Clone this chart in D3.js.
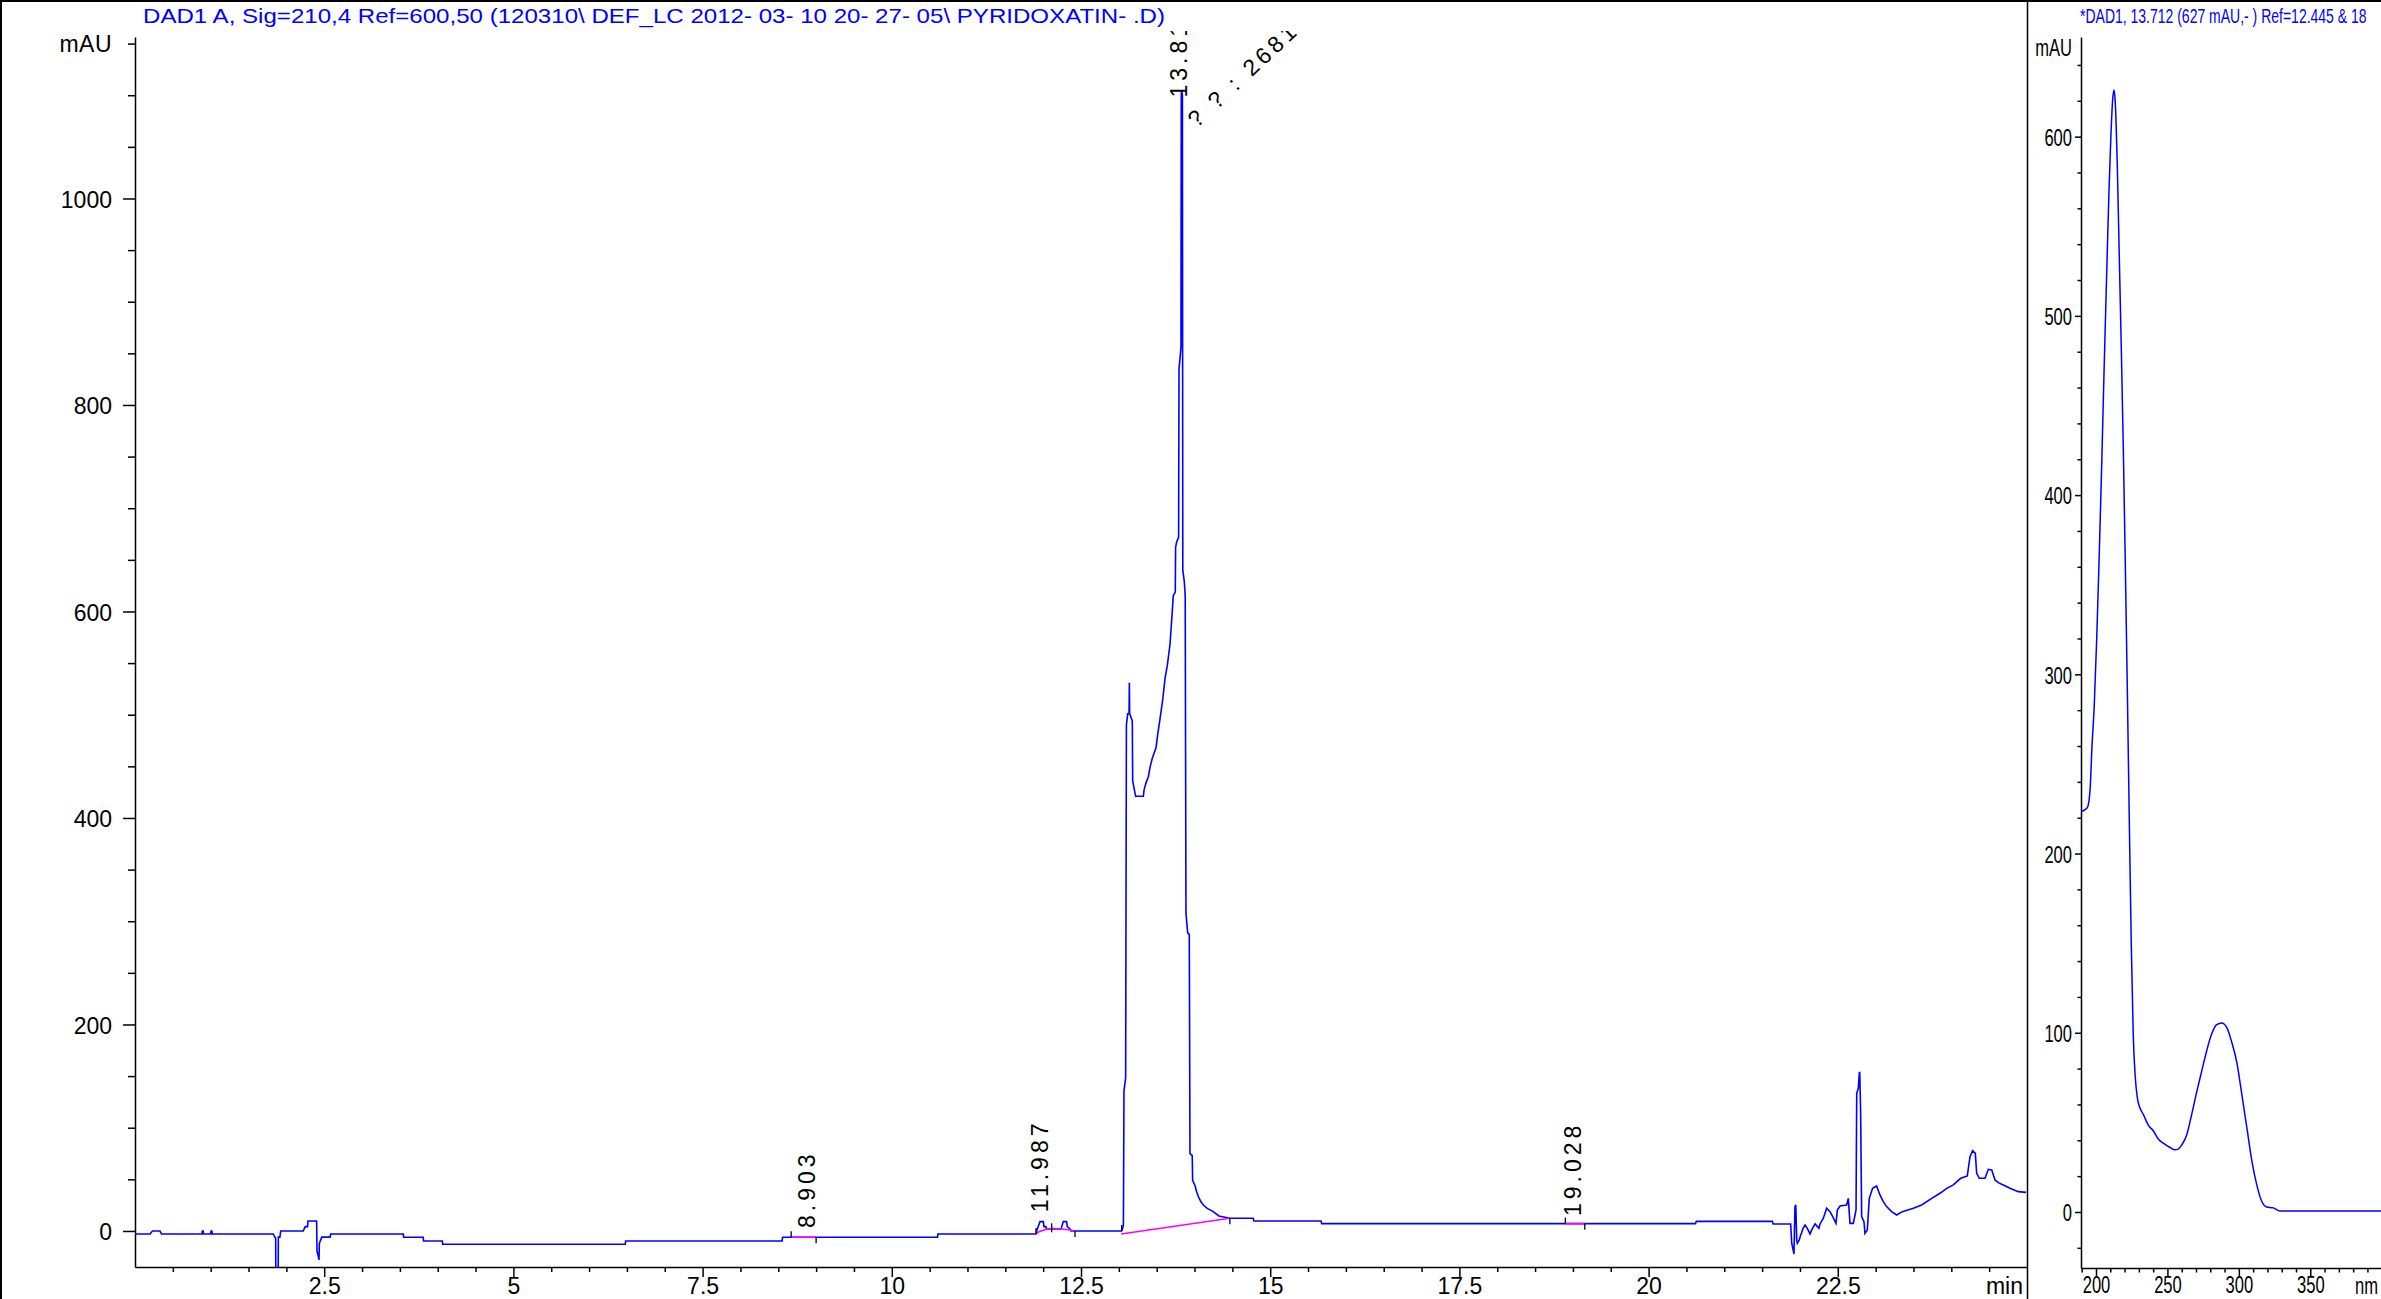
<!DOCTYPE html>
<html><head><meta charset="utf-8">
<script src="https://cdn.jsdelivr.net/npm/d3@7"></script>
<style>
html,body{margin:0;padding:0;background:#fff;overflow:hidden}
svg{display:block}
text{font-family:"Liberation Sans",Arial,sans-serif}
</style>
</head><body>
<svg id="c" width="2381" height="1299"></svg>
<script>
// ---------------- DATA ----------------
const mainTitle = "DAD1 A, Sig=210,4 Ref=600,50 (120310\\ DEF_LC 2012- 03- 10 20- 27- 05\\ PYRIDOXATIN- .D)";
const specTitle = "*DAD1, 13.712 (627 mAU,- ) Ref=12.445 & 18";

// chromatogram: [time (min), signal (mAU)]
const chromatogram = [
[0,-2.9],[0.2,-2.9],[0.23,0],[0.33,0],[0.35,-2.9],[0.885,-2.9],[0.89,0],[0.9,0],[0.905,-2.9],[1.0,-2.9],[1.005,0],[1.015,0],[1.02,-2.9],
[1.828,-2.9],[1.841,-5],[1.859,-7],[1.862,-80],[1.89,-80],[1.894,-6],[1.915,-6],[1.925,0],
[2.224,0],[2.232,1.5],[2.25,4.2],[2.28,4.2],[2.286,9.7],[2.4,9.7],[2.405,-20],[2.414,-22],[2.431,-28],[2.436,-12],[2.467,-6],[2.577,-6],[2.586,-2.9],
[3.545,-2.9],[3.55,-6.1],[3.808,-6.1],[3.813,-9.7],[4.061,-9.7],[4.066,-12.9],[6.478,-12.9],[6.483,-9.7],[8.551,-9.7],[8.556,-6.1],[10.604,-6.1],[10.609,-2.9],
[11.905,-2.9],[11.923,1.9],[11.958,9],[12.002,9],[12.011,4.2],[12.037,4.2],[12.046,1.9],[12.236,1.9],[12.245,4.2],[12.266,9],[12.31,9],[12.319,4.2],[12.355,1.9],[12.368,0],
[13.037,0],[13.06,5],[13.068,136],[13.09,148],[13.1,490],[13.117,501],[13.135,501],[13.139,531],[13.143,501],[13.178,494],[13.183,436],[13.222,421],[13.324,421],[13.333,427],[13.359,434],[13.39,440],[13.412,449],[13.443,458],[13.491,468],[13.514,481],[13.544,496],[13.579,514],[13.61,535],[13.641,548],[13.676,568],[13.706,600],[13.719,615],[13.746,619],[13.75,662],[13.763,667],[13.79,672],[13.795,835],[13.808,845],[13.821,856],[13.825,1100],[13.83,1105],[13.84,1100],[13.845,640],[13.865,629],[13.877,615],[13.887,308],[13.909,289],[13.931,287],[13.94,75],[13.97,73],[13.975,49],[14.006,44],[14.028,38],[14.058,32],[14.093,27.4],[14.128,24.4],[14.168,21.8],[14.247,18.8],[14.322,14.5],[14.467,12.3],[14.775,12.3],[14.785,9.7],
[15.672,9.7],[15.68,7.1],[20.62,7.1],[20.63,9.3],[21.636,9.3],[21.645,6.8],[21.877,6.8],
[21.891,-11.9],[21.921,-22.3],[21.934,23.6],[21.945,25.2],[21.957,-8.7],[21.965,-11.9],[21.991,-8.7],[22.009,-3.9],[22.02,-2.3],[22.036,1.9],[22.067,5.8],[22.097,2.6],[22.133,-2.9],[22.155,1.0],[22.2,6.8],[22.25,2.6],[22.265,6.8],[22.309,12.3],[22.353,22],[22.397,18.7],[22.433,13.9],[22.476,7.4],[22.494,20.3],[22.529,24.2],[22.617,25.2],[22.639,31.6],[22.661,7.4],[22.705,7.4],[22.741,20.3],[22.75,133.3],[22.771,138.2],[22.785,153.4],[22.79,153.4],[22.802,114],[22.815,13.9],[22.846,9],[22.859,-2.3],[22.89,1.0],[22.916,31.6],[22.96,41.3],[23.013,43.6],[23.057,34.9],[23.101,28.4],[23.145,23.6],[23.211,18.7],[23.278,15.5],[23.353,18.7],[23.498,22],[23.608,25.2],[23.741,31.6],[23.85,36.5],[23.939,41.3],[24.026,44.6],[24.124,51],[24.211,53.3],[24.247,72],[24.282,77.8],[24.317,75.2],[24.335,55.9],[24.37,51],[24.445,51],[24.489,59.7],[24.534,59.1],[24.577,49.4],[24.621,46.8],[24.687,44.6],[24.775,41.3],[24.885,38.1],[24.987,37.4]
];

// integration baselines (pink): each a list of [time, mAU]
const baselines = [
  [[8.67,-6.1],[9.0,-6.1]],
  [[11.905,-2.9],[11.95,-0.5],[12.046,1.6],[12.112,2.6],[12.245,1.9],[12.355,1.0],[12.421,0]],
  [[13.03,-2.9],[14.467,12.3]],
  [[18.9,7.1],[19.157,7.1]]
];
const peakStart = [[8.67,-6.1],[11.905,-2.9],[13.037,0],[18.9,7.1]];
const peakEnd   = [[9.0,-6.1],[12.421,0],[14.467,12.3],[19.157,7.1]];
const peakSplit = [[12.112,2.6]];

// peak labels
const peakRT     = [8.903, 11.987, 13.819, 19.028];
const peakText   = ["8.903", "11.987", "13.819", "19.028"];
const peakLevel  = [-5.8, 9.5, 1089, 5.8];
const peakName   = "? ? : 2681-";

// axis ticks (main)
const xMajor = [2.5, 5, 7.5, 10, 12.5, 15, 17.5, 20, 22.5];
const yMajor = [0, 200, 400, 600, 800, 1000];

// UV spectrum: [wavelength nm, mAU]
const spectrum = [
[189.3,223.3],[193.9,225.6],[195.8,235],[197.2,260],[198.8,283],[200.5,320],[202.1,362],[204,417],[205.6,468],[207.5,524],[209.1,570],[210.5,602],[211.7,621],[212.6,626],[213.5,619],[214.9,584],[216.3,533],[217.7,482],[219.1,427],[220.5,362],[221.9,293],[223.3,219],[224.7,149],[226.1,98],[227.5,75],[228.9,64],[230.8,58],[233.1,54.5],[236.6,48.5],[240.1,45.3],[243.6,40.7],[247.1,38.4],[251.8,36],[255.3,34.7],[257.6,35.1],[260,37.4],[263.5,43],[267,54.5],[270.5,67],[274,78.6],[277.5,90],[281,99.4],[284.5,104.5],[288,105.4],[291.5,103],[295,94.8],[298.5,83.7],[302,66],[305.5,47.6],[309,29],[312.5,15.3],[316,6],[319.5,2.8],[324.1,2.3],[328.8,0.5],[399.5,0.5]
];
const wMajor = [200, 250, 300, 350];
const sMajor = [0, 100, 200, 300, 400, 500, 600];

// ---------------- DRAWING ----------------
const W = 2381, H = 1299;
const svg = d3.select("#c");
svg.append("rect").attr("width", W).attr("height", H).attr("fill", "#fff");

const FONT = 23;
const BLUE = "#0000ff", PINK = "#ff00ff";
const LABEL_BASE = 1293.5;

// main scales
const x = d3.scaleLinear().domain([0, 25]).range([135, 2027]);
const y = d3.scaleLinear().domain([-34.9, 1156.4]).range([1267, 37]);
// spectrum scales
const x2 = d3.scaleLinear().domain([189.5, 399.5]).range([2081, 2381]);
const y2 = d3.scaleLinear().domain([-31.25, 655.6]).range([1268, 37]);

const defs = svg.append("defs");
defs.append("clipPath").attr("id", "clipMain").append("rect")
  .attr("x", 135).attr("y", 31).attr("width", 2027 - 135).attr("height", 1267 - 31);
defs.append("clipPath").attr("id", "clipSpec").append("rect")
  .attr("x", 2081).attr("y", 37).attr("width", 300).attr("height", 1268 - 37);

// frame
svg.append("line").attr("x1", 0).attr("x2", W).attr("y1", 1).attr("y2", 1).attr("stroke", "#000").attr("stroke-width", 2);
svg.append("line").attr("x1", 1).attr("x2", 1).attr("y1", 0).attr("y2", H).attr("stroke", "#000").attr("stroke-width", 2);
svg.append("line").attr("x1", 2027.5).attr("x2", 2027.5).attr("y1", 0).attr("y2", H).attr("stroke", "#000").attr("stroke-width", 1.5);

// titles
svg.append("text").attr("x", 143).attr("y", 23).attr("font-size", 21).attr("fill", BLUE)
  .attr("textLength", 1022).attr("lengthAdjust", "spacingAndGlyphs").text(mainTitle);
svg.append("text").attr("transform", "translate(2080,23) scale(0.7,1)")
  .attr("font-size", 20).attr("fill", BLUE).text(specTitle);

function styleAxis(g) {
  g.attr("font-size", null).attr("font-family", null);
  g.selectAll("line").attr("stroke", "#000").attr("stroke-width", 1.5);
  g.selectAll("path.domain").attr("stroke", "#000").attr("stroke-width", 1.5);
  g.selectAll("text").attr("fill", "#000").attr("font-size", FONT);
}

// ---- main y axis
const yMinor = d3.range(50, 1151, 50).filter(v => !yMajor.includes(v));
const gyMin = svg.append("g").attr("transform", "translate(135,0)")
  .call(d3.axisLeft(y).tickValues(yMinor).tickSize(7).tickSizeOuter(0).tickFormat(""));
styleAxis(gyMin);
const gyMaj = svg.append("g").attr("transform", "translate(135,0)")
  .call(d3.axisLeft(y).tickValues(yMajor).tickSize(12).tickPadding(11).tickFormat(d3.format("d")));
gyMaj.select("path.domain").remove();
styleAxis(gyMaj);
gyMaj.selectAll("text").attr("dy", "0.38em");
svg.append("text").attr("x", 112).attr("y", y(1150)).attr("dy", "0.38em")
  .attr("text-anchor", "end").attr("font-size", FONT).attr("letter-spacing", 0.5).text("mAU");

// ---- main x axis
const xMinor = d3.range(0.5, 25, 0.5).filter(v => !xMajor.includes(v));
const gxMin = svg.append("g").attr("transform", "translate(0,1267)")
  .call(d3.axisBottom(x).tickValues(xMinor).tickSize(5).tickSizeOuter(0).tickFormat(""));
styleAxis(gxMin);
const gxMaj = svg.append("g").attr("transform", "translate(0,1267)")
  .call(d3.axisBottom(x).tickValues(xMajor).tickSize(10).tickFormat(d => String(d)));
gxMaj.select("path.domain").remove();
styleAxis(gxMaj);
gxMaj.selectAll("text").attr("y", LABEL_BASE - 1267).attr("dy", 0);
svg.append("text").attr("x", 2023).attr("y", LABEL_BASE).attr("text-anchor", "end")
  .attr("font-size", FONT).text("min");

// ---- chromatogram trace
const line = d3.line().x(d => x(d[0])).y(d => y(d[1]));
const plot = svg.append("g").attr("clip-path", "url(#clipMain)");
plot.append("path").datum(chromatogram).attr("d", line)
  .attr("fill", "none").attr("stroke", BLUE).attr("stroke-width", 1.6).attr("stroke-linejoin", "miter");

// integration baselines
baselines.forEach(b => {
  plot.append("path").datum(b).attr("d", line).attr("fill", "none").attr("stroke", PINK).attr("stroke-width", 1.6);
});
// tick marks
peakStart.forEach(p => {
  plot.append("line").attr("x1", x(p[0])).attr("x2", x(p[0]))
    .attr("y1", y(p[1])).attr("y2", y(p[1]) - 6).attr("stroke", "#000").attr("stroke-width", 1.3);
});
peakEnd.forEach(p => {
  plot.append("line").attr("x1", x(p[0])).attr("x2", x(p[0]))
    .attr("y1", y(p[1])).attr("y2", y(p[1]) + 6).attr("stroke", "#000").attr("stroke-width", 1.3);
});
peakSplit.forEach(p => {
  plot.append("line").attr("x1", x(p[0])).attr("x2", x(p[0]))
    .attr("y1", y(p[1]) - 5).attr("y2", y(p[1]) + 4).attr("stroke", "#000").attr("stroke-width", 1.3);
});

// peak labels
peakRT.forEach((rt, i) => {
  const px = x(rt) + 6, py = y(peakLevel[i]) - 9;
  plot.append("text").attr("transform", `translate(${px},${py}) rotate(-90)`)
    .attr("font-size", FONT).attr("letter-spacing", 4).attr("fill", "#000").text(peakText[i]);
});
// compound name label (diagonal) next to main peak
plot.append("text").attr("transform", `translate(${x(13.819) + 16},${y(peakLevel[2]) + 22}) rotate(-43)`)
  .attr("font-size", FONT).attr("letter-spacing", 4).attr("fill", "#000").text(peakName);

// ---- spectrum y axis
const sMinor = d3.range(-20, 656, 20).filter(v => !sMajor.includes(v));
const g2yMin = svg.append("g").attr("transform", "translate(2081,0)")
  .call(d3.axisLeft(y2).tickValues(sMinor).tickSize(3.5).tickSizeOuter(0).tickFormat(""));
styleAxis(g2yMin);
const g2yMaj = svg.append("g").attr("transform", "translate(2081,0)")
  .call(d3.axisLeft(y2).tickValues(sMajor).tickSize(6).tickPadding(3).tickFormat(d3.format("d")));
g2yMaj.select("path.domain").remove();
styleAxis(g2yMaj);
g2yMaj.selectAll("text").attr("x", -9 / 0.72).attr("dy", "0.38em").attr("transform", "scale(0.72,1)");
svg.append("text").attr("transform", `translate(2072,${y2(650)}) scale(0.72,1)`).attr("dy", "0.38em")
  .attr("text-anchor", "end").attr("font-size", FONT).text("mAU");

// ---- spectrum x axis
const wMinor = d3.range(190, 400, 10).filter(v => !wMajor.includes(v));
const g2xMin = svg.append("g").attr("transform", "translate(0,1268)")
  .call(d3.axisBottom(x2).tickValues(wMinor).tickSize(4.5).tickSizeOuter(0).tickFormat(""));
styleAxis(g2xMin);
const g2xMaj = svg.append("g").attr("transform", "translate(0,1268)")
  .call(d3.axisBottom(x2).tickValues(wMajor).tickSize(9).tickFormat(d3.format("d")));
g2xMaj.select("path.domain").remove();
styleAxis(g2xMaj);
g2xMaj.selectAll("text").attr("y", LABEL_BASE - 1268).attr("dy", 0).attr("transform", "scale(0.72,1)");
svg.append("text").attr("transform", `translate(2378,${LABEL_BASE}) scale(0.72,1)`)
  .attr("text-anchor", "end").attr("font-size", FONT).text("nm");

// ---- spectrum curve
const line2 = d3.line().x(d => x2(d[0])).y(d => y2(d[1])).curve(d3.curveMonotoneX);
svg.append("g").attr("clip-path", "url(#clipSpec)")
  .append("path").datum(spectrum).attr("d", line2)
  .attr("fill", "none").attr("stroke", BLUE).attr("stroke-width", 1.5);
</script>
</body></html>
